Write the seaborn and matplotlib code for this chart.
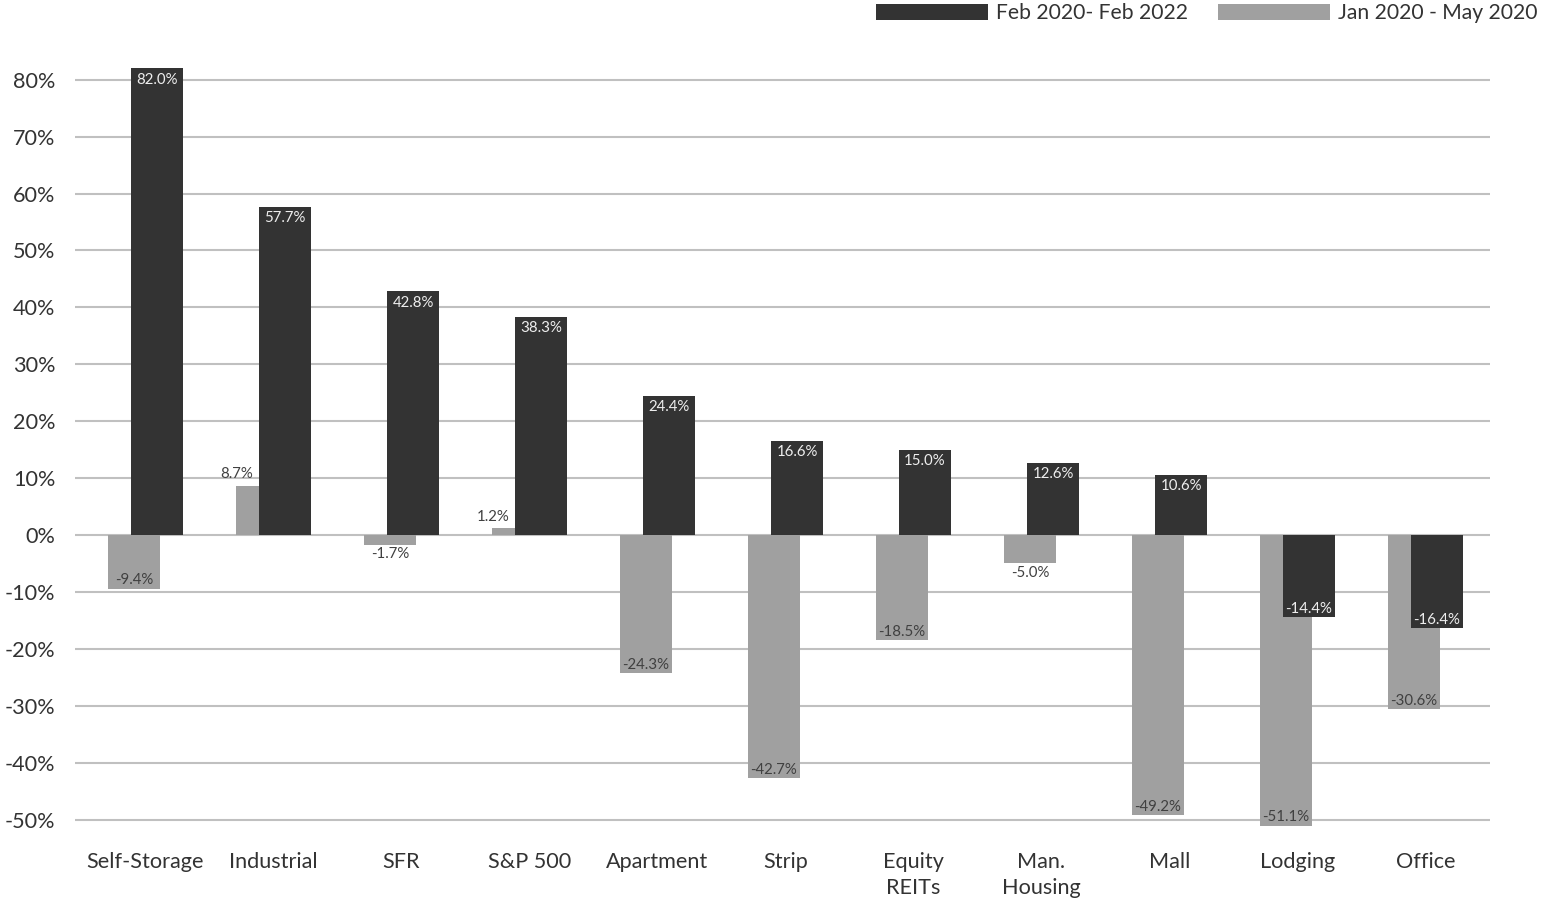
import matplotlib
matplotlib.use("Agg")
import matplotlib.pyplot as plt
import seaborn as sns
import numpy as np
import pandas as pd

# Sector total returns
categories = ["Self-Storage", "Industrial", "SFR", "S&P 500", "Apartment", "Strip",
              "Equity\nREITs", "Man.\nHousing", "Mall", "Lodging", "Office"]
feb20_feb22 = [82.0, 57.7, 42.8, 38.3, 24.4, 16.6, 15.0, 12.6, 10.6, -14.4, -16.4]
jan20_may20 = [-9.4, 8.7, -1.7, 1.2, -24.3, -42.7, -18.5, -5.0, -49.2, -51.1, -30.6]
y_ticks = [80, 70, 60, 50, 40, 30, 20, 10, 0, -10, -20, -30, -40, -50]

DARK = "#333333"
GRAY = "#a0a0a0"
FONT = "Lato"

sns.set_theme(style="white")
plt.rcParams["font.family"] = [FONT, "DejaVu Sans"]

fig = plt.figure(figsize=(15.43, 9.0), dpi=100)
ax = fig.add_axes([75 / 1543, 0.0767, (1490 - 75) / 1543, 0.86])

idx = np.arange(len(categories))
shift = 0.09
width = 0.406

df_gray = pd.DataFrame({"x": idx - shift, "v": jan20_may20})
df_dark = pd.DataFrame({"x": idx + shift, "v": feb20_feb22})

sns.barplot(data=df_gray, x="x", y="v", native_scale=True, width=width,
            color=GRAY, saturation=1, ax=ax, label="Jan 2020 - May 2020",
            linewidth=0, zorder=3)
sns.barplot(data=df_dark, x="x", y="v", native_scale=True, width=width,
            color=DARK, saturation=1, ax=ax, label="Feb 2020- Feb 2022",
            linewidth=0, zorder=4)

ax.set_xlim(-0.551, 10.504)
ax.set_ylim(-52, 84)
ax.set_yticks(y_ticks)
ax.set_yticklabels([f"{t}%" for t in y_ticks])
ax.set_xticks(idx)
ax.set_xticklabels(categories)
ax.set_xlabel("")
ax.set_ylabel("")
ax.tick_params(axis="y", length=0, pad=14, labelsize=15.6, labelcolor="#333333")
ax.tick_params(axis="x", length=0, pad=15, labelsize=15.6, labelcolor="#333333")
for lab in ax.get_xticklabels():
    lab.set_verticalalignment("top")
    lab.set_linespacing(1.4)
for s in ax.spines.values():
    s.set_visible(False)
for t in y_ticks:
    ax.axhline(t, color="#c0c0c0", lw=1.5, zorder=1)

# Value labels
for i, v in enumerate(feb20_feb22):
    if v >= 0:
        ax.annotate(f"{v:.1f}%", (i + shift, v), xytext=(0, -3), textcoords="offset points",
                    ha="center", va="top", fontsize=10.8, color="#eeeeee", zorder=6)
    else:
        ax.annotate(f"{v:.1f}%", (i + shift, v), xytext=(0, 1), textcoords="offset points",
                    ha="center", va="bottom", fontsize=10.8, color="#eeeeee", zorder=6)

for i, v in enumerate(jan20_may20):
    if v >= 0:
        ax.annotate(f"{v:.1f}%", (i - shift, v), xytext=(-18, 3), textcoords="offset points",
                    ha="center", va="bottom", fontsize=10.8, color="#404040", zorder=6)
    elif v > -6:
        ax.annotate(f"{v:.1f}%", (i - shift, v), xytext=(0, -2), textcoords="offset points",
                    ha="center", va="top", fontsize=10.8, color="#404040", zorder=6)
    else:
        ax.annotate(f"{v:.1f}%", (i - shift, v), xytext=(0, 1), textcoords="offset points",
                    ha="center", va="bottom", fontsize=10.8, color="#404040", zorder=6)

handles, labels = ax.get_legend_handles_labels()
if ax.get_legend() is not None:
    ax.get_legend().remove()
order = [labels.index("Feb 2020- Feb 2022"), labels.index("Jan 2020 - May 2020")]
fig.legend([handles[k] for k in order], [labels[k] for k in order],
           loc="upper right", bbox_to_anchor=(1.006, 1.013), ncol=2, frameon=False,
           fontsize=15.2, handlelength=5.3, handleheight=0.8, handletextpad=0.4,
           columnspacing=1.4, borderpad=0.2, labelcolor="#333333")

fig.savefig("out.png", dpi=100, facecolor="white")
